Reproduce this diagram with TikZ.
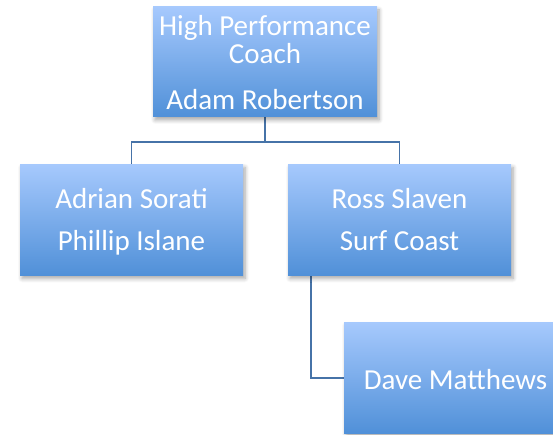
\documentclass[tikz,border=0pt]{standalone}
\usepackage{fontspec}
\setmainfont{Carlito}
\usetikzlibrary{shadows.blur,backgrounds}
\definecolor{boxtop}{RGB}{166,201,253}
\definecolor{boxbot}{RGB}{80,144,216}
\definecolor{linkc}{RGB}{70,115,168}
\tikzset{
  box/.style={rectangle, minimum width=223pt, minimum height=111pt, inner sep=0pt,
    top color=boxtop, bottom color=boxbot, draw=none,
    blur shadow={shadow xshift=2pt, shadow yshift=-3pt, shadow blur steps=6, shadow blur radius=4pt, shadow opacity=35}},
  txt/.style={text=white, font=\fontsize{29}{31}\selectfont, inner sep=0pt, anchor=base},
  link/.style={draw=linkc, line width=1.7pt}
}
\begin{document}
\begin{tikzpicture}[x=1pt,y=-1pt]
\useasboundingbox (0,0) rectangle (553,435);
\node[box, minimum width=224pt, minimum height=110pt] (top) at (265,62) {};
\node[box] (left) at (131.5,220) {};
\node[box] (right) at (399.5,220) {};
\node[box] (bot) at (455.5,378) {};
\coordinate (bar) at (265,142);
\coordinate (rs) at (311,276);
\begin{pgfonlayer}{background}
\draw[link] (top.south) -- (bar) -| (left.north);
\draw[link] (bar) -| (right.north);
\draw[link] (rs) |- (bot.west);
\end{pgfonlayer}
% texts
\node[txt] (t1) at (265,36) {High Performance};
\node[txt] (t2) at (265,64) {Coach};
\node[txt] (t3) at (265,110) {Adam Robertson};
\node[txt] (l1) at (131.5,209) {Adrian Sorati};
\node[txt] (l2) at (131.5,251) {Phillip Islane};
\node[txt] (r1) at (399.5,209) {Ross Slaven};
\node[txt] (r2) at (399.5,251) {Surf Coast};
\node[txt] (b1) at (455.5,389) {Dave Matthews};
\end{tikzpicture}
\end{document}
